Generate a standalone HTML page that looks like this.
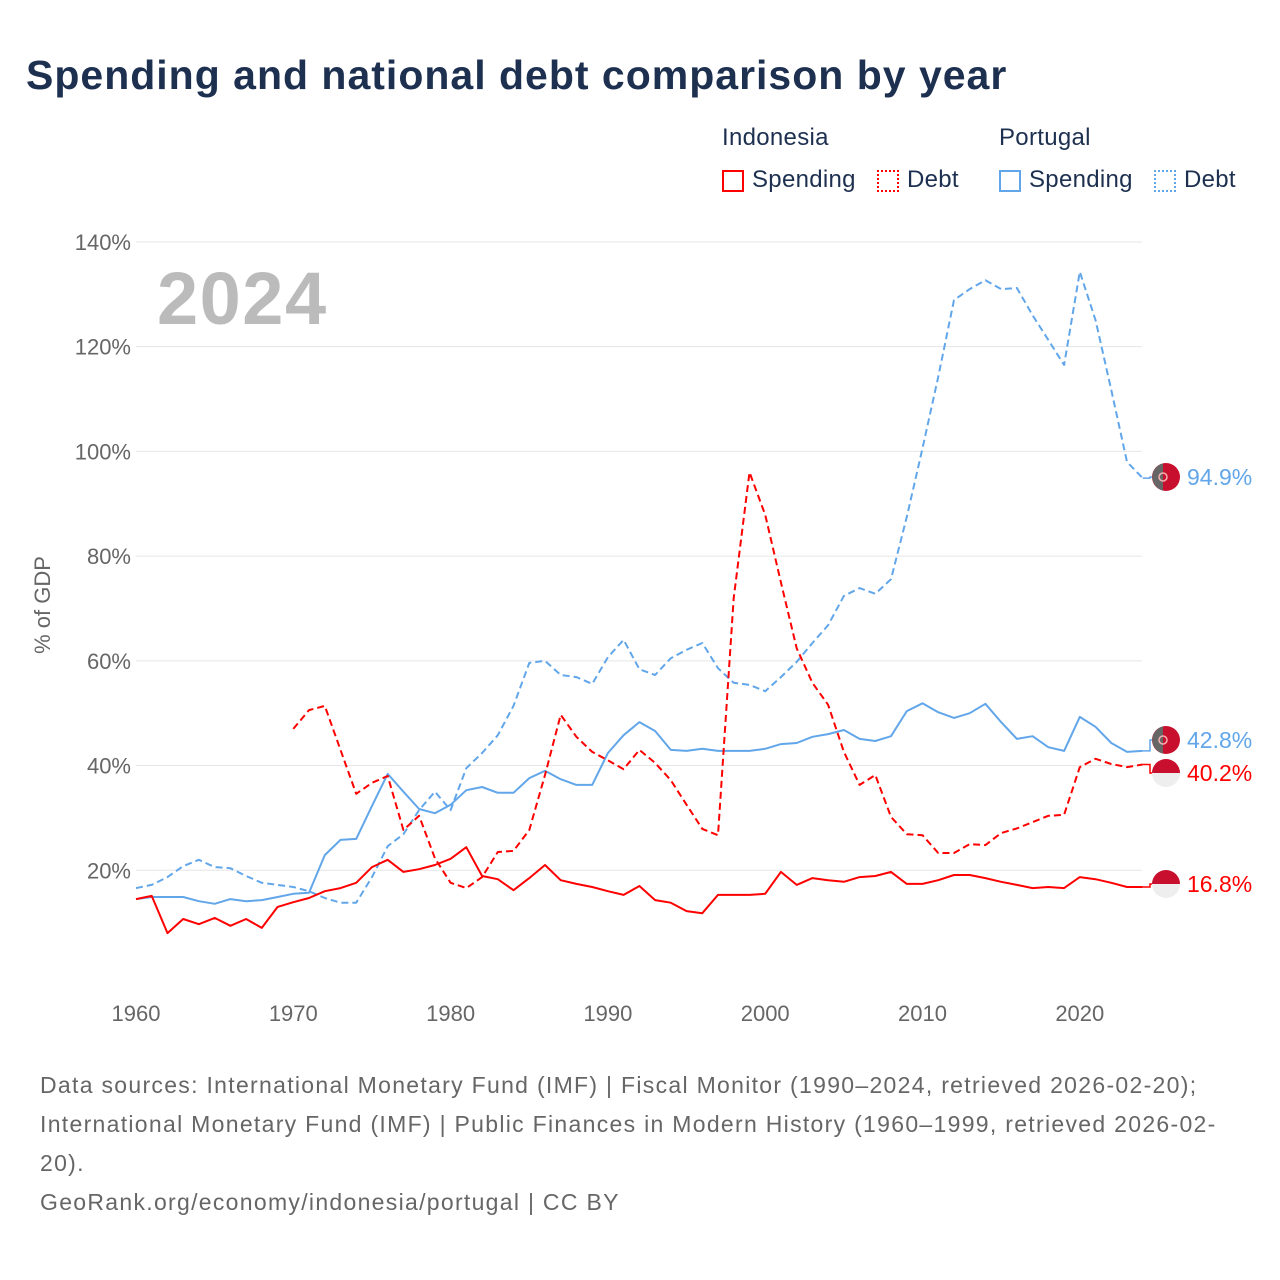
<!DOCTYPE html>
<html><head><meta charset="utf-8">
<style>
body{margin:0;background:#fff;width:1280px;height:1280px;overflow:hidden;font-family:"Liberation Sans",sans-serif;}
#title{position:absolute;left:26px;top:52px;font-size:41px;font-weight:bold;color:#1d3050;margin:0;letter-spacing:1px}
.leg{position:absolute;font-size:24px;color:#1d3050;letter-spacing:0.3px}
.sw{position:absolute;width:22px;height:22px;box-sizing:border-box}
#src{position:absolute;left:40px;top:1066px;font-size:23px;color:#666;line-height:39px;width:1230px;letter-spacing:1.3px;white-space:nowrap}
</style></head><body>
<h1 id="title">Spending and national debt comparison by year</h1>
<div class="leg" style="left:722px;top:124px">Indonesia</div>
<div class="leg" style="left:999px;top:124px">Portugal</div>
<div class="sw" style="left:722px;top:170px;border:2px solid #f00"></div>
<div class="leg" style="left:752px;top:166px">Spending</div>
<div class="sw" style="left:877px;top:170px;border:2px dotted #f00"></div>
<div class="leg" style="left:907px;top:166px">Debt</div>
<div class="sw" style="left:999px;top:170px;border:2px solid #62a6ea"></div>
<div class="leg" style="left:1029px;top:166px">Spending</div>
<div class="sw" style="left:1154px;top:170px;border:2px dotted #62a6ea"></div>
<div class="leg" style="left:1184px;top:166px">Debt</div>

<svg id="chart" width="1280" height="1280" style="position:absolute;left:0;top:0"></svg>

<div id="src">Data sources: International Monetary Fund (IMF) | Fiscal Monitor (1990–2024, retrieved 2026-02-20);<br>International Monetary Fund (IMF) | Public Finances in Modern History (1960–1999, retrieved 2026-02-<br>20).<br>GeoRank.org/economy/indonesia/portugal | CC BY</div>

<script>
const years = [];
for (let y = 1960; y <= 2024; y++) years.push(y);
const yTicks = [20,40,60,80,100,120,140];
const xTicks = [1960,1970,1980,1990,2000,2010,2020];
const idnSpending = [14.5,15.1,8.0,10.7,9.7,10.9,9.4,10.7,9.0,13.0,13.9,14.7,16,16.6,17.6,20.6,22,19.7,20.2,21,22.2,24.4,18.9,18.3,16.2,18.5,21,18.1,17.4,16.8,16,15.3,17,14.3,13.8,12.2,11.8,15.3,15.3,15.3,15.5,19.7,17.2,18.5,18.1,17.8,18.7,18.9,19.7,17.4,17.4,18.1,19.1,19.1,18.5,17.8,17.2,16.6,16.8,16.6,18.7,18.3,17.6,16.8,16.8];
const idnDebt = [null,null,null,null,null,null,null,null,null,null,47,50.6,51.4,43,34.6,36.7,38,27.7,30.4,22.3,17.6,16.6,18.7,23.5,23.7,27.7,38.2,49.7,45.5,42.6,41,39.3,43,40.5,37.2,32.5,27.9,26.7,72,96,87.9,75,62.4,55.8,51.6,42.6,36.3,38.2,30.2,26.9,26.7,23.3,23.3,25,24.8,27.1,28,29.2,30.4,30.6,39.7,41.3,40.3,39.7,40.2];
const prtSpending = [14.5,14.9,14.9,14.9,14.1,13.6,14.5,14.1,14.3,14.9,15.5,15.7,22.9,25.8,26,32.3,38.4,35,31.7,30.9,32.5,35.3,35.9,34.8,34.8,37.6,39,37.4,36.3,36.3,42.4,45.8,48.3,46.6,43,42.8,43.2,42.8,42.8,42.8,43.2,44.1,44.3,45.5,46,46.8,45.1,44.7,45.6,50.4,51.9,50.2,49.1,50,51.8,48.3,45.1,45.6,43.5,42.8,49.3,47.4,44.3,42.6,42.8];
const prtDebt = [16.6,17.2,18.7,20.8,22,20.6,20.4,18.9,17.6,17.2,16.8,16,14.7,13.8,13.8,18.7,24.6,26.9,31.5,35,31.5,39.5,42.4,45.8,51.4,59.6,60,57.3,56.9,55.6,60.7,64,58.4,57.3,60.5,62.1,63.4,58.6,55.8,55.4,54.2,56.9,59.8,63.4,66.8,72.4,73.9,72.8,75.6,87.5,100.6,114.2,128.9,131,132.7,131,131.2,126,121.3,116.5,134.3,125.1,111.7,98,94.9];

const NS = "http://www.w3.org/2000/svg";
const svg = document.getElementById('chart');
const X = yr => 136 + (yr - 1960) * 15.73;
const Y = v => 975 - v * 5.236;
function mk(tag, attrs, parent) {
  const e = document.createElementNS(NS, tag);
  for (const k in attrs) e.setAttribute(k, attrs[k]);
  (parent || svg).appendChild(e);
  return e;
}
yTicks.forEach(t => {
  const g = mk('line', {x1:136, x2:1142, y1:Y(t), y2:Y(t), stroke:'#e6e6e6', 'stroke-width':1});
  
  
  const tx = mk('text', {x:131, y:Y(t)+8, 'text-anchor':'end', 'font-size':22, fill:'#666', 'font-family':'Liberation Sans, sans-serif'});
  tx.textContent = t + '%';
  
  
});
xTicks.forEach(t => {
  const tx = mk('text', {x:X(t), y:1021, 'text-anchor':'middle', 'font-size':22, fill:'#666', 'font-family':'Liberation Sans, sans-serif'});
  tx.textContent = t;
  
  
});
const yt = mk('text', {x:0, y:0, transform:'translate(50,605) rotate(-90)', 'text-anchor':'middle', 'font-size':22, fill:'#666', 'font-family':'Liberation Sans, sans-serif'});
yt.textContent = '% of GDP';


const yr = mk('text', {x:157, y:324, 'font-size':74, 'font-weight':'bold', fill:'#bbb', 'letter-spacing':1.5, 'font-family':'Liberation Sans, sans-serif'});
yr.textContent = '2024';



function series(vals, color, dash, name) {
  let d = '', pen = false;
  vals.forEach((v, i) => {
    if (v === null) { pen = false; return; }
    d += (pen ? 'L' : 'M') + X(years[i]).toFixed(1) + ' ' + Y(v).toFixed(1) + ' ';
    pen = true;
  });
  const p = mk('path', {d:d, fill:'none', stroke:color, 'stroke-width':2, 'stroke-dasharray':dash ? '7 4' : 'none', 'stroke-linejoin':'round'});
  
  
}
series(prtDebt, '#62a6ea', true, 'portugal-debt-line');
series(prtSpending, '#62a6ea', false, 'portugal-spending-line');
series(idnDebt, '#ff0000', true, 'indonesia-debt-line');
series(idnSpending, '#ff0000', false, 'indonesia-spending-line');

function endMark(v, labelY, color, flag, name) {
  const last = X(2024);
  mk('path', {d:`M${last} ${Y(v)} L1150 ${Y(v)} L1150 ${labelY} L1152 ${labelY}`, fill:'none', stroke:color, 'stroke-width':1.5});
  const g = mk('g', {});
  
  
  const cx = 1166, cy = labelY, r = 14;
  if (flag === 'pt') {
    mk('circle', {cx, cy, r, fill:'#c8102e'}, g);
    mk('path', {d:`M${cx-3} ${cy-r+0.4} A${r} ${r} 0 0 0 ${cx-3} ${cy+r-0.4} Z`, fill:'#666'}, g);
    mk('circle', {cx:cx-3, cy, r:4, fill:'none', stroke:'#f5b0b0', 'stroke-width':1.5}, g);
  } else {
    mk('circle', {cx, cy, r, fill:'#eee'}, g);
    mk('path', {d:`M${cx-r} ${cy} A${r} ${r} 0 0 1 ${cx+r} ${cy} Z`, fill:'#c8102e'}, g);
  }
  const t = mk('text', {x:1187, y:labelY+8, 'font-size':23, fill:color, 'font-family':'Liberation Sans, sans-serif'});
  t.textContent = v.toFixed(1) + '%';
  
  
}
endMark(prtDebt[64], 477, '#62a6ea', 'pt', 'portugal-debt');
endMark(prtSpending[64], 740, '#62a6ea', 'pt', 'portugal-spending');
endMark(40.2, 773, '#ff0000', 'id', 'indonesia-debt');
endMark(16.8, 884, '#ff0000', 'id', 'indonesia-spending');
</script>
</body></html>
